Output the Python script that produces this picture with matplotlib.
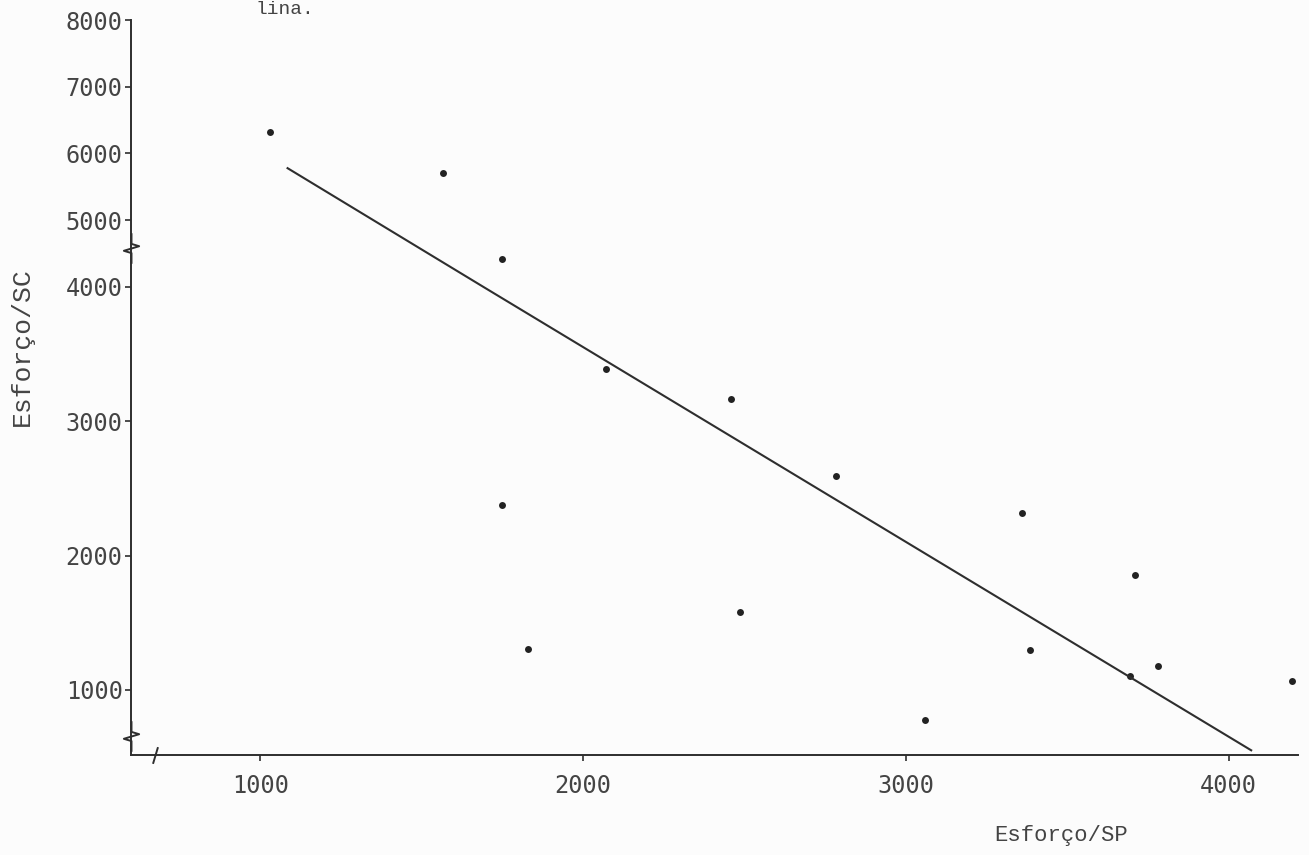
import numpy as np
import matplotlib.pyplot as plt
from matplotlib.path import Path

# Dados (esforço SP x esforço SC)
esforco_sp = [1030, 1565, 1750, 2070, 2460, 2785, 1750, 3360, 3710,
              1830, 2485, 3385, 3780, 3695, 3060, 4195]
esforco_sc = [6320, 5710, 4420, 3390, 3165, 2590, 2375, 2315, 1855,
              1305, 1580, 1295, 1180, 1105, 775, 1065]

# Reta ajustada (desenhada reta no papel, atravessa a quebra do eixo)
reta_sp = [1085, 1692, 4070]
reta_sc = [5780, 4000, 550]

x_ticks = [1000, 2000, 3000, 4000]
y_ticks = [1000, 2000, 3000, 4000, 5000, 6000, 7000, 8000]

# Eixo Y com quebra: acima de 4000 a escala é comprimida
QUEBRA = 4000
FATOR = 0.497


def ida(v):
    v = np.asarray(v, dtype=float)
    return np.where(v <= QUEBRA, v, QUEBRA + (v - QUEBRA) * FATOR)


def volta(u):
    u = np.asarray(u, dtype=float)
    return np.where(u <= QUEBRA, u, QUEBRA + (u - QUEBRA) / FATOR)


cor = '#2e2e2e'
cor_txt = '#444444'
fonte_num = 'DejaVu Sans Mono'
fonte_txt = 'Liberation Mono'

fig = plt.figure(figsize=(13.09, 8.55), dpi=100, facecolor='#fcfcfc')
ax = fig.add_axes([131 / 1309, 100 / 855, 1167 / 1309, 735 / 855])
ax.set_facecolor('#fcfcfc')

ax.set_yscale('function', functions=(ida, volta))
ax.set_xlim(600, 4215)
ax.set_ylim(515, 8000)

# Pontos e reta
ax.plot(esforco_sp, esforco_sc, 'o', color='#222222', markersize=5,
        markeredgewidth=0, clip_on=False)
ax.plot(reta_sp, reta_sc, '-', color=cor, linewidth=1.5)

# Eixos
for lado in ['top', 'right']:
    ax.spines[lado].set_visible(False)
for lado in ['left', 'bottom']:
    ax.spines[lado].set_color(cor)
    ax.spines[lado].set_linewidth(1.4)

ax.set_xticks(x_ticks)
ax.set_xticklabels([str(t) for t in x_ticks])
ax.set_yticks(y_ticks)
ax.set_yticklabels([str(t) for t in y_ticks])
ax.minorticks_off()
ax.tick_params(axis='x', direction='out', length=4, width=1.2, color=cor,
               pad=10, labelsize=17, labelcolor=cor_txt)
ax.tick_params(axis='y', direction='out', length=4, width=1.2, color=cor,
               pad=2, labelsize=17, labelcolor=cor_txt)
for lab in ax.get_xticklabels() + ax.get_yticklabels():
    lab.set_family(fonte_num)

ax.set_xlabel('Esforço/SP', family=fonte_txt, fontsize=16, color=cor_txt)
ax.xaxis.set_label_coords(0.797, -0.095)
ax.set_ylabel('Esforço/SC', family=fonte_txt, fontsize=19, color=cor_txt)
ax.yaxis.set_label_coords(-0.083, 0.555)

# Marcas de quebra nos eixos
zig = Path([(0.0, 1.0), (0.0, 0.3), (0.5, 0.15), (-0.5, -0.15),
            (0.0, -0.3), (0.0, -1.0)])
ax.plot([0, 0], [4580, 660], linestyle='none', marker=zig, markersize=22,
        markerfacecolor='none', markeredgecolor=cor, markeredgewidth=1.4,
        transform=ax.get_yaxis_transform(), clip_on=False)
barra = Path([(-0.3, -1.0), (0.0, 0.0), (0.3, 1.0)])
ax.plot([675], [0], linestyle='none', marker=barra, markersize=12,
        markerfacecolor='none', markeredgecolor=cor, markeredgewidth=1.4,
        transform=ax.get_xaxis_transform(), clip_on=False)

# Resto da linha de texto do documento, no topo
fig.text(255 / 1309, 0.999, 'lina.', family=fonte_txt, fontsize=14,
         color=cor_txt, ha='left', va='top')

plt.savefig('out.png', dpi=100, facecolor=fig.get_facecolor())
